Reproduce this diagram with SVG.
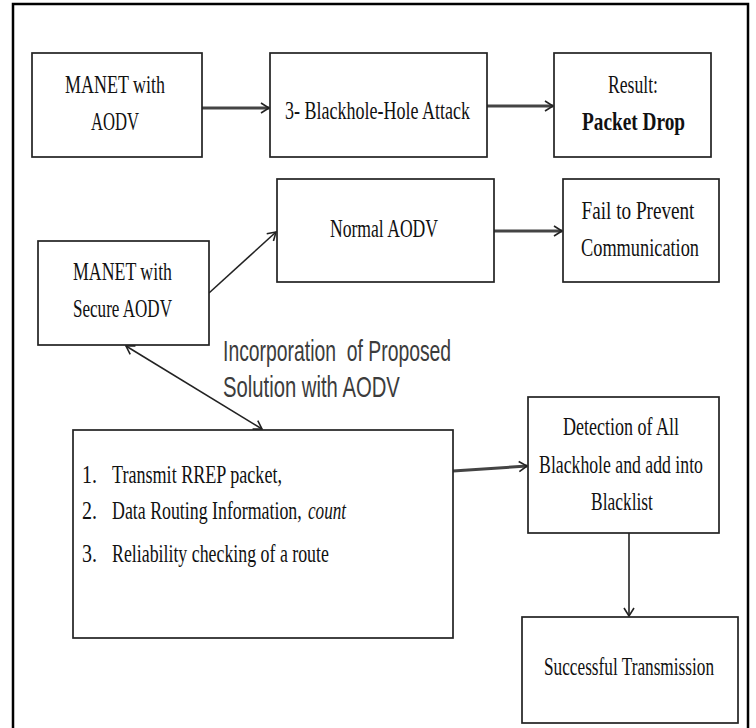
<svg xmlns="http://www.w3.org/2000/svg" width="756" height="728" viewBox="0 0 756 728">
<defs>
<marker id="chev" viewBox="-10 -6 12 12" refX="0" refY="0" markerWidth="12" markerHeight="12" markerUnits="userSpaceOnUse" orient="auto-start-reverse">
<path d="M-8,-5 L0,0 L-8,5" fill="none" stroke="#222" stroke-width="1.6"/>
</marker>
</defs>
<style>
.box{fill:#fff;stroke:#222;stroke-width:1.7}
.t{font-family:"Liberation Serif","Times New Roman",serif;font-size:26px;fill:#111}
.c{text-anchor:middle}
.b{font-weight:bold}
.i{font-style:italic}
.lab{font-family:"Liberation Sans",Arial,sans-serif;font-size:30px;fill:#3c3c3c}
.thick{fill:none;stroke:#444;stroke-width:3}
.thin{fill:none;stroke:#222;stroke-width:1.6}
</style>
<rect x="0" y="0" width="756" height="728" fill="#fff"/>
<rect x="13" y="4" width="735" height="728" fill="none" stroke="#000" stroke-width="2.5"/>

<g id="connectors">
<line class="thick" x1="202" y1="108" x2="269" y2="108" marker-end="url(#chev)"/>
<line class="thick" x1="487" y1="106" x2="553" y2="106" marker-end="url(#chev)"/>
<line class="thick" x1="494" y1="231" x2="562" y2="231" marker-end="url(#chev)"/>
<line class="thin" x1="209" y1="293" x2="276" y2="232" marker-end="url(#chev)"/>
<line class="thin" x1="126" y1="346" x2="262" y2="429" marker-start="url(#chev)" marker-end="url(#chev)"/>
<line class="thick" x1="453" y1="471" x2="527" y2="466" marker-end="url(#chev)"/>
<line class="thin" x1="629" y1="533" x2="629" y2="616" marker-end="url(#chev)"/>
</g>

<g id="manet-aodv">
<rect class="box" x="32" y="53" width="170" height="104"/>
<text class="t c" transform="translate(115,93) scale(0.68,1)" textLength="147" lengthAdjust="spacingAndGlyphs">MANET with</text>
<text class="t c" transform="translate(115,130) scale(0.68,1)" textLength="70.6" lengthAdjust="spacingAndGlyphs">AODV</text>
</g>

<g id="blackhole-attack">
<rect class="box" x="270" y="53" width="217" height="104"/>
<text class="t" transform="translate(285,119) scale(0.68,1)" textLength="272" lengthAdjust="spacingAndGlyphs">3- Blackhole-Hole Attack</text>
</g>

<g id="result">
<rect class="box" x="554" y="53" width="157" height="104"/>
<text class="t c" transform="translate(633,93) scale(0.68,1)" textLength="73.5" lengthAdjust="spacingAndGlyphs">Result:</text>
<text class="t c b" transform="translate(633.5,130) scale(0.68,1)" textLength="151.5" lengthAdjust="spacingAndGlyphs">Packet Drop</text>
</g>

<g id="normal-aodv">
<rect class="box" x="277" y="179" width="217" height="103"/>
<text class="t c" transform="translate(384,237) scale(0.68,1)" textLength="159" lengthAdjust="spacingAndGlyphs">Normal AODV</text>
</g>

<g id="fail">
<rect class="box" x="563" y="179" width="156" height="103"/>
<text class="t c" transform="translate(638,219) scale(0.68,1)" textLength="166" lengthAdjust="spacingAndGlyphs">Fail to Prevent</text>
<text class="t c" transform="translate(640,256) scale(0.68,1)" textLength="173.5" lengthAdjust="spacingAndGlyphs">Communication</text>
</g>

<g id="manet-secure">
<rect class="box" x="38" y="241" width="171" height="104"/>
<text class="t c" transform="translate(122.5,280) scale(0.68,1)" textLength="145.6" lengthAdjust="spacingAndGlyphs">MANET with</text>
<text class="t c" transform="translate(122.5,317) scale(0.68,1)" textLength="145.6" lengthAdjust="spacingAndGlyphs">Secure AODV</text>
</g>

<g id="incorporation-label">
<text class="lab" transform="translate(223,361) scale(0.65,1)" textLength="351" lengthAdjust="spacingAndGlyphs" xml:space="preserve">Incorporation  of Proposed</text>
<text class="lab" transform="translate(223,397) scale(0.65,1)" textLength="272" lengthAdjust="spacingAndGlyphs">Solution with AODV</text>
</g>

<g id="solution-steps">
<rect class="box" x="73" y="430" width="380" height="208"/>
<text class="t" transform="translate(82,483) scale(0.68,1)" textLength="22" lengthAdjust="spacingAndGlyphs">1.</text>
<text class="t" transform="translate(112,483) scale(0.68,1)" textLength="250" lengthAdjust="spacingAndGlyphs">Transmit RREP packet,</text>
<text class="t" transform="translate(82,519) scale(0.68,1)" textLength="22" lengthAdjust="spacingAndGlyphs">2.</text>
<text class="t" transform="translate(112,519) scale(0.68,1)" textLength="279" lengthAdjust="spacingAndGlyphs">Data Routing Information,</text>
<text class="t i" transform="translate(308,519) scale(0.68,1)" textLength="56" lengthAdjust="spacingAndGlyphs">count</text>
<text class="t" transform="translate(82,562) scale(0.68,1)" textLength="22" lengthAdjust="spacingAndGlyphs">3.</text>
<text class="t" transform="translate(112,562) scale(0.68,1)" textLength="319" lengthAdjust="spacingAndGlyphs">Reliability checking of a route</text>
</g>

<g id="detection">
<rect class="box" x="528" y="397" width="191" height="136"/>
<text class="t c" transform="translate(621,435) scale(0.68,1)" textLength="170.6" lengthAdjust="spacingAndGlyphs">Detection of All</text>
<text class="t c" transform="translate(621,473) scale(0.68,1)" textLength="241" lengthAdjust="spacingAndGlyphs">Blackhole and add into</text>
<text class="t c" transform="translate(622,510) scale(0.68,1)" textLength="91" lengthAdjust="spacingAndGlyphs">Blacklist</text>
</g>

<g id="successful">
<rect class="box" x="522" y="617" width="216" height="106"/>
<text class="t c" transform="translate(629,675) scale(0.68,1)" textLength="250" lengthAdjust="spacingAndGlyphs">Successful Transmission</text>
</g>
</svg>
